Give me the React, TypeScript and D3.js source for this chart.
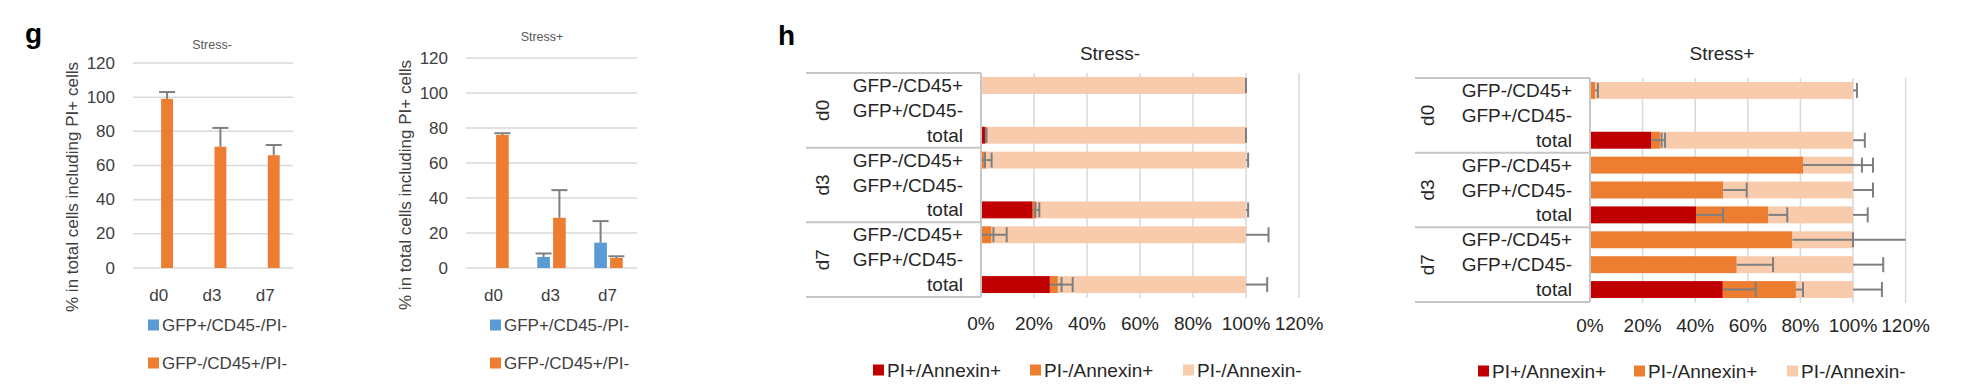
import React, { useEffect, useRef } from 'react';
import * as d3 from 'd3';

const WIDTH = 1961;
const HEIGHT = 384;

// ---- panel g data ----
const gDays = ['d0', 'd3', 'd7'];
const gSeries = ['GFP+/CD45-/PI-', 'GFP-/CD45+/PI-'];
const gTicks = [0, 20, 40, 60, 80, 100, 120];
const gMinusBlue = [0, 0, 0];
const gMinusBlueErr = [0, 0, 0];
const gMinusOrange = [99, 71, 66];
const gMinusOrangeErr = [4, 11, 6];
const gPlusBlue = [0, 6.3, 14.5];
const gPlusBlueErr = [0, 2, 12.3];
const gPlusOrange = [76, 28.7, 5.7];
const gPlusOrangeErr = [1, 15.8, 1];

// ---- panel h data ----
const hDays = ['d0', 'd3', 'd7'];
const hRowLabels = ['GFP-/CD45+', 'GFP+/CD45-', 'total'];
const hSeries = ['PI+/Annexin+', 'PI-/Annexin+', 'PI-/Annexin-'];
const hTicks = [0, 20, 40, 60, 80, 100, 120];
// rows: d0 (GFP-/CD45+, GFP+/CD45-, total), d3 (...), d7 (...)
const hMinusRed = [0, null, 1.5, 0, null, 19.5, 0, null, 26];
const hMinusOrange = [0, null, 0.5, 2, null, 1.5, 4, null, 3];
const hMinusPink = [100, null, 98, 98, null, 79, 96, null, 71];
const hMinusRedErr = [0, null, 0.5, 1.5, null, 1, 4.7, null, 4.4];
const hMinusOrangeErr = [0, null, 0, 2, null, 1, 5.7, null, 5.6];
const hMinusPinkErr = [0, null, 0, 0.8, null, 0.8, 8.5, null, 8];

const hPlusRed = [0, null, 23.4, 0, 0, 40.3, 0, 0, 50.5];
const hPlusOrange = [2, null, 3.2, 81, 50.6, 27.5, 77, 55.8, 27.8];
const hPlusPink = [98, null, 73.4, 19, 49.4, 32.2, 23, 44.2, 21.7];
const hPlusRedErr = [0, null, 3.8, 0, 0, 10.3, 0, 0, 12.5];
const hPlusOrangeErr = [1, null, 1.9, 22.4, 9, 7.2, 50, 13.8, 2.7];
const hPlusPinkErr = [1.5, null, 4.5, 7.6, 7.6, 5.6, 0, 11.5, 11];

const BLUE = '#5B9BD5';
const ORANGE = '#ED7D31';
const RED = '#C00000';
const PINK = '#F8CBAD';
const ERR = '#7f7f7f';
const GRID = '#d9d9d9';
const FONT = 'Liberation Sans, Arial, sans-serif';

type Sel = d3.Selection<SVGSVGElement, unknown, null, undefined>;

function drawG(svg: Sel, cfg: any) {
  const g = svg.append('g');
  const y = d3.scaleLinear().domain([0, 120]).range([cfg.yBottom, cfg.yTop]);
  const x0 = d3.scaleBand<string>().domain(gDays).range([cfg.left, cfg.right])
    .paddingInner(0.5).paddingOuter(0.25);
  const x1 = d3.scaleBand<string>().domain(gSeries).range([0, x0.bandwidth()]).paddingInner(0.2);

  g.selectAll('.grid').data(gTicks).enter().append('line')
    .attr('x1', cfg.left).attr('x2', cfg.right)
    .attr('y1', d => y(d)).attr('y2', d => y(d))
    .attr('stroke', GRID).attr('stroke-width', 1.5);

  g.selectAll('.tick').data(gTicks).enter().append('text')
    .attr('x', cfg.tickX).attr('y', d => y(d))
    .attr('text-anchor', 'end').attr('dominant-baseline', 'central')
    .attr('font-family', FONT).attr('font-size', 17).attr('fill', '#404040')
    .text(d => d);

  const series = [
    { name: gSeries[0], color: BLUE, vals: cfg.blue, errs: cfg.blueErr },
    { name: gSeries[1], color: ORANGE, vals: cfg.orange, errs: cfg.orangeErr },
  ];
  series.forEach(s => {
    gDays.forEach((day, i) => {
      const v = s.vals[i];
      const e = s.errs[i];
      if (v === 0 && e === 0) return;
      const bx = (x0(day) as number) + (x1(s.name) as number);
      const bw = x1.bandwidth();
      g.append('rect').attr('x', bx).attr('width', bw)
        .attr('y', y(v)).attr('height', y(0) - y(v)).attr('fill', s.color);
      const cx = bx + bw / 2;
      g.append('line').attr('x1', cx).attr('x2', cx).attr('y1', y(v)).attr('y2', y(v + e))
        .attr('stroke', ERR).attr('stroke-width', 2);
      g.append('line').attr('x1', cx - 8).attr('x2', cx + 8).attr('y1', y(v + e)).attr('y2', y(v + e))
        .attr('stroke', ERR).attr('stroke-width', 2);
    });
  });

  g.selectAll('.xl').data(gDays).enter().append('text')
    .attr('x', d => (x0(d) as number) + x0.bandwidth() / 2 - 1).attr('y', 295)
    .attr('text-anchor', 'middle').attr('dominant-baseline', 'central')
    .attr('font-family', FONT).attr('font-size', 17).attr('fill', '#404040')
    .text(d => d);

  g.append('text')
    .attr('transform', `translate(${cfg.labelX},${cfg.labelY}) rotate(-90)`)
    .attr('text-anchor', 'middle').attr('dominant-baseline', 'central')
    .attr('font-family', FONT).attr('font-size', 17).attr('fill', '#404040')
    .text('% in total cells including PI+ cells');

  g.append('text').attr('x', cfg.titleX).attr('y', cfg.titleY)
    .attr('text-anchor', 'middle').attr('dominant-baseline', 'central')
    .attr('font-family', FONT).attr('font-size', 12.5).attr('fill', '#595959')
    .text(cfg.title);

  [BLUE, ORANGE].forEach((c, i) => {
    const ly = cfg.legendY[i];
    g.append('rect').attr('x', cfg.legendX).attr('y', ly - 5.5).attr('width', 11).attr('height', 11).attr('fill', c);
    g.append('text').attr('x', cfg.legendX + 14).attr('y', ly)
      .attr('dominant-baseline', 'central')
      .attr('font-family', FONT).attr('font-size', 17).attr('fill', '#404040')
      .text(gSeries[i]);
  });
}

function drawH(svg: Sel, cfg: any) {
  const g = svg.append('g');
  const rowKeys: string[] = [];
  hDays.forEach(d => hRowLabels.forEach(r => rowKeys.push(`${d}|${r}`)));
  const x = d3.scaleLinear().domain([0, 120]).range([cfg.x0, cfg.x0 + cfg.per100 * 1.2]);
  const y = d3.scaleBand<string>().domain(rowKeys).range([cfg.yTop, cfg.yBottom])
    .paddingInner(0.32).paddingOuter(0.16);
  const step = y.step();

  // gridlines
  g.selectAll('.grid').data(hTicks.filter(t => t > 0)).enter().append('line')
    .attr('x1', d => x(d)).attr('x2', d => x(d))
    .attr('y1', cfg.yTop).attr('y2', cfg.yBottom + 1)
    .attr('stroke', GRID).attr('stroke-width', 1.5);

  // bars
  const segs = [
    { vals: cfg.red, errs: cfg.redErr, color: RED },
    { vals: cfg.orange, errs: cfg.orangeErr, color: ORANGE },
    { vals: cfg.pink, errs: cfg.pinkErr, color: PINK },
  ];
  const errLayer: { end: number; err: number; yc: number }[] = [];
  rowKeys.forEach((key, i) => {
    let cum = 0;
    const by = y(key) as number;
    const bh = y.bandwidth();
    segs.forEach(s => {
      const v = s.vals[i];
      if (v === null || v === undefined) return;
      g.append('rect').attr('x', x(cum)).attr('width', x(cum + v) - x(cum))
        .attr('y', by).attr('height', bh).attr('fill', s.color);
      cum += v;
      errLayer.push({ end: cum, err: s.errs[i], yc: by + bh / 2 });
    });
  });
  errLayer.forEach(e => {
    const tip = e.end + e.err;
    g.append('line').attr('x1', x(e.end)).attr('x2', x(Math.min(tip, 120)))
      .attr('y1', e.yc).attr('y2', e.yc).attr('stroke', ERR).attr('stroke-width', 2);
    if (tip <= 120) {
      g.append('line').attr('x1', x(tip)).attr('x2', x(tip))
        .attr('y1', e.yc - 7.5).attr('y2', e.yc + 7.5).attr('stroke', ERR).attr('stroke-width', 2);
    }
  });

  // category table
  const bounds = [0, 3, 6, 9].map(k => cfg.yTop + k * step);
  bounds.forEach(b => {
    g.append('line').attr('x1', cfg.tableLeft).attr('x2', cfg.x0).attr('y1', b).attr('y2', b)
      .attr('stroke', '#c6c6c6').attr('stroke-width', 2);
  });
  g.append('line').attr('x1', cfg.x0).attr('x2', cfg.x0).attr('y1', cfg.yTop).attr('y2', cfg.yBottom)
    .attr('stroke', '#c6c6c6').attr('stroke-width', 2);

  g.selectAll('.rl').data(rowKeys).enter().append('text')
    .attr('x', cfg.x0 - 18).attr('y', d => (y(d) as number) + y.bandwidth() / 2)
    .attr('text-anchor', 'end').attr('dominant-baseline', 'central')
    .attr('font-family', FONT).attr('font-size', 19).attr('fill', '#262626')
    .text(d => d.split('|')[1]);

  hDays.forEach((d, i) => {
    const cy = (bounds[i] + bounds[i + 1]) / 2;
    g.append('text').attr('transform', `translate(${cfg.dayX},${cy}) rotate(-90)`)
      .attr('text-anchor', 'middle').attr('dominant-baseline', 'central')
      .attr('font-family', FONT).attr('font-size', 19).attr('fill', '#262626')
      .text(d);
  });

  g.selectAll('.tk').data(hTicks).enter().append('text')
    .attr('x', d => x(d)).attr('y', cfg.tickY)
    .attr('text-anchor', 'middle').attr('dominant-baseline', 'central')
    .attr('font-family', FONT).attr('font-size', 19).attr('fill', '#262626')
    .text(d => `${d}%`);

  g.append('text').attr('x', cfg.titleX).attr('y', 53)
    .attr('text-anchor', 'middle').attr('dominant-baseline', 'central')
    .attr('font-family', FONT).attr('font-size', 19).attr('fill', '#262626')
    .text(cfg.title);

  [RED, ORANGE, PINK].forEach((c, i) => {
    const lx = cfg.legendX[i];
    g.append('rect').attr('x', lx).attr('y', cfg.legendY - 5.5).attr('width', 11).attr('height', 11).attr('fill', c);
    g.append('text').attr('x', lx + 14).attr('y', cfg.legendY)
      .attr('dominant-baseline', 'central')
      .attr('font-family', FONT).attr('font-size', 19).attr('fill', '#262626')
      .text(hSeries[i]);
  });
}

const App: React.FC = () => {
  const svgRef = useRef<SVGSVGElement>(null);

  useEffect(() => {
    if (!svgRef.current) return;
    const svg = d3.select(svgRef.current);
    svg.selectAll('*').remove();

    svg.append('text').attr('x', 25).attr('y', 43)
      .attr('font-family', FONT).attr('font-size', 28).attr('font-weight', 'bold').attr('fill', '#000')
      .text('g');
    svg.append('text').attr('x', 778).attr('y', 45)
      .attr('font-family', FONT).attr('font-size', 28).attr('font-weight', 'bold').attr('fill', '#000')
      .text('h');

    drawG(svg, {
      title: 'Stress-', titleX: 212, titleY: 45,
      left: 133, right: 293, yTop: 63, yBottom: 268, tickX: 115,
      labelX: 72, labelY: 187, legendX: 148, legendY: [325, 363],
      blue: gMinusBlue, blueErr: gMinusBlueErr, orange: gMinusOrange, orangeErr: gMinusOrangeErr,
    });
    drawG(svg, {
      title: 'Stress+', titleX: 542, titleY: 37,
      left: 466, right: 637, yTop: 58, yBottom: 268, tickX: 448,
      labelX: 405, labelY: 185, legendX: 490, legendY: [325, 363],
      blue: gPlusBlue, blueErr: gPlusBlueErr, orange: gPlusOrange, orangeErr: gPlusOrangeErr,
    });

    drawH(svg, {
      title: 'Stress-', titleX: 1110,
      x0: 981, per100: 265, yTop: 73, yBottom: 297, tableLeft: 806, dayX: 822,
      tickY: 323, legendX: [873, 1030, 1183], legendY: 370,
      red: hMinusRed, orange: hMinusOrange, pink: hMinusPink,
      redErr: hMinusRedErr, orangeErr: hMinusOrangeErr, pinkErr: hMinusPinkErr,
    });
    drawH(svg, {
      title: 'Stress+', titleX: 1722,
      x0: 1590, per100: 263, yTop: 78, yBottom: 302, tableLeft: 1415, dayX: 1427,
      tickY: 325, legendX: [1478, 1634, 1787], legendY: 371,
      red: hPlusRed, orange: hPlusOrange, pink: hPlusPink,
      redErr: hPlusRedErr, orangeErr: hPlusOrangeErr, pinkErr: hPlusPinkErr,
    });
  }, []);

  return (
    <div style={{ position: 'absolute', left: 0, top: 0 }}>
      <svg ref={svgRef} width={WIDTH} height={HEIGHT} style={{ display: 'block', background: '#fff' }} />
    </div>
  );
};

export default App;
